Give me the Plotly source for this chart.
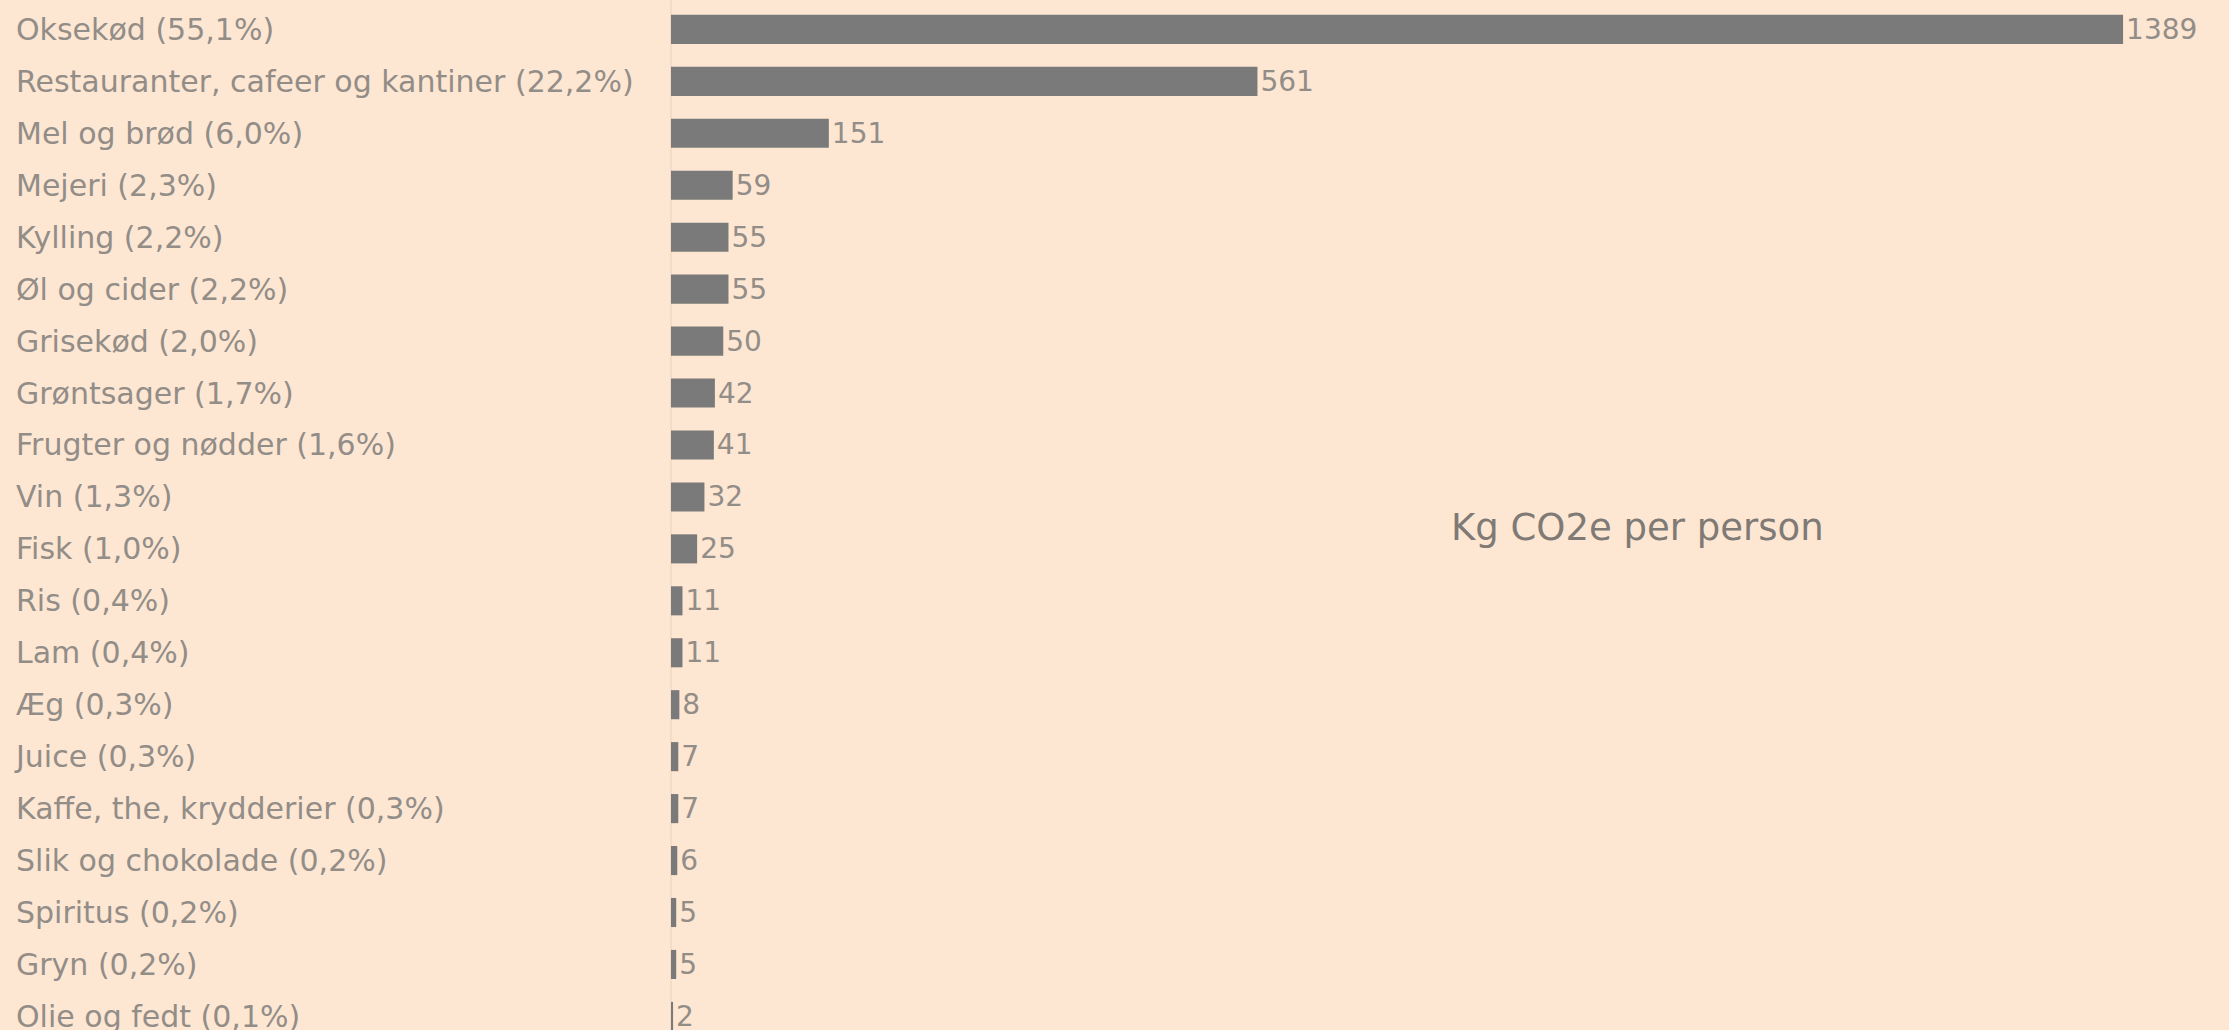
import plotly.graph_objects as go

categories = [
    "Oksekød (55,1%)",
    "Restauranter, cafeer og kantiner (22,2%)",
    "Mel og brød (6,0%)",
    "Mejeri (2,3%)",
    "Kylling (2,2%)",
    "Øl og cider (2,2%)",
    "Grisekød (2,0%)",
    "Grøntsager (1,7%)",
    "Frugter og nødder (1,6%)",
    "Vin (1,3%)",
    "Fisk (1,0%)",
    "Ris (0,4%)",
    "Lam (0,4%)",
    "Æg (0,3%)",
    "Juice (0,3%)",
    "Kaffe, the, krydderier (0,3%)",
    "Slik og chokolade (0,2%)",
    "Spiritus (0,2%)",
    "Gryn (0,2%)",
    "Olie og fedt (0,1%)",
]
values = [1389, 561, 151, 59, 55, 55, 50, 42, 41, 32, 25, 11, 11, 8, 7, 7, 6, 5, 5, 2]
unit_label = "Kg CO2e per person"

BG = "#fde7d3"
BAR = "#7a7a7a"
TXT = "#938d88"
FONT = "DejaVu Sans"

fig = go.Figure(
    go.Bar(
        x=values,
        y=categories,
        orientation="h",
        marker=dict(color=BAR, line=dict(width=0)),
        text=values,
        textposition="outside",
        constraintext="none",
        cliponaxis=False,
        textfont=dict(family=FONT, size=28, color=TXT),
        hoverinfo="skip",
    )
)

fig.update_layout(
    width=2229,
    height=1050,
    paper_bgcolor=BG,
    plot_bgcolor=BG,
    margin=dict(l=13, r=20, t=0, b=0),
    bargap=0.44,
    showlegend=False,
    font=dict(family=FONT, size=30, color=TXT),
    annotations=[
        dict(
            text=unit_label,
            xref="paper",
            yref="paper",
            x=(1637 - 13) / 2196,
            y=1 - 527 / 1050,
            xanchor="center",
            yanchor="middle",
            showarrow=False,
            font=dict(family=FONT, size=37, color="#7f7a75"),
        )
    ],
)

fig.update_xaxes(
    range=[-629.4, 1471.2],
    showgrid=False,
    showticklabels=False,
    zeroline=True,
    zerolinecolor="#f6dcc6",
    zerolinewidth=2,
    fixedrange=True,
)
fig.update_yaxes(
    categoryorder="array",
    categoryarray=categories,
    range=[19.647, -0.566],
    ticklabelposition="inside",
    showgrid=False,
    ticks="",
    tickfont=dict(family=FONT, size=30, color=TXT),
    fixedrange=True,
)

fig.write_html(
    "out.html",
    config={"displayModeBar": False},
    post_script=(
        "document.documentElement.style.margin='0';"
        "document.documentElement.style.overflow='hidden';"
        "document.body.style.margin='0';"
        "document.body.style.overflow='hidden';"
        "document.body.style.backgroundColor='#fde7d3';"
    ),
)
